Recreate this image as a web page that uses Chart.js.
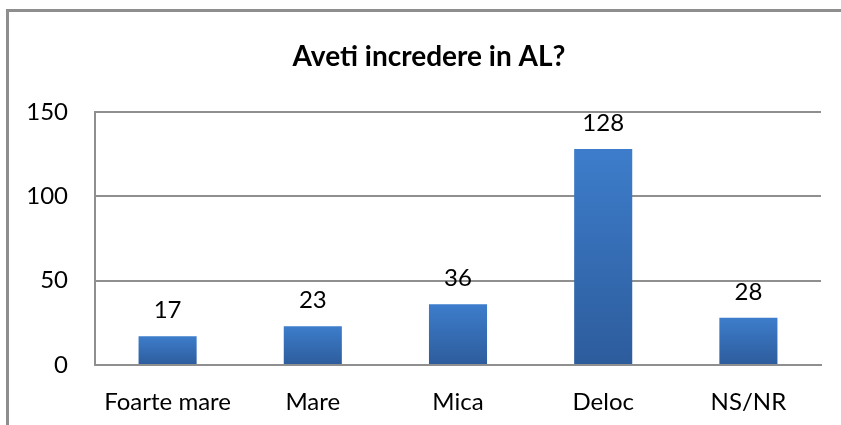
<!DOCTYPE html>
<html>
<head>
<meta charset="utf-8">
<script src="https://cdn.jsdelivr.net/npm/chart.js@4"></script>
<style>
  html,body{margin:0;padding:0;background:#fff;}
  #wrap{position:relative;width:841px;height:425px;overflow:hidden;}
  #frame{position:absolute;left:6px;top:9px;width:900px;height:500px;
         border-top:3px solid #8e8e8e;border-left:3px solid #8e8e8e;pointer-events:none;}
  canvas{position:absolute;left:0;top:0;}
</style>
</head>
<body>
<div id="wrap">
  <canvas id="chart" width="841" height="425"></canvas>
  <div id="frame"></div>
</div>
<script>
/* ------------- DATA ------------- */
const TITLE      = "Aveti incredere in AL?";
const categories = ["Foarte mare", "Mare", "Mica", "Deloc", "NS/NR"];
const values     = [17, 23, 36, 128, 28];
const yTicks     = [0, 50, 100, 150];

const FONT = "Lato, 'Open Sans', sans-serif";
const GRID = "#8f8f8f";

/* gradient per bar, top lighter, bottom darker */
function barFill(c){
  const ch = c.chart, y = ch.scales.y;
  if(!ch.chartArea || !y || c.dataIndex === undefined) return "#3a73bd";
  const top = y.getPixelForValue(values[c.dataIndex]);
  const bot = y.getPixelForValue(0);
  if(!Number.isFinite(top) || !Number.isFinite(bot)) return "#3a73bd";
  const g = ch.ctx.createLinearGradient(0, top, 0, bot);
  g.addColorStop(0, "#3d7dcb");
  g.addColorStop(1, "#2d5c9c");
  return g;
}

/* value labels above each bar */
const valueLabels = {
  id:"valueLabels",
  afterDatasetsDraw(chart){
    const ctx = chart.ctx;
    const meta = chart.getDatasetMeta(0);
    ctx.save();
    ctx.font = "24px " + FONT;
    ctx.fillStyle = "#000";
    ctx.textAlign = "center";
    ctx.textBaseline = "alphabetic";
    meta.data.forEach((bar, i) => {
      ctx.fillText(String(values[i]), bar.x, bar.y - 18);
    });
    ctx.restore();
  }
};

/* title, centred on the framed box rather than the plot */
const boxTitle = {
  id:"boxTitle",
  afterDraw(chart){
    const ctx = chart.ctx;
    ctx.save();
    ctx.font = "bold 28px " + FONT;
    ctx.fillStyle = "#000";
    ctx.textAlign = "center";
    ctx.textBaseline = "middle";
    ctx.fillText(TITLE, 429, 57);
    ctx.restore();
  }
};

new Chart(document.getElementById("chart").getContext("2d"), {
  type:"bar",
  data:{
    labels:categories,
    datasets:[{
      data:values,
      backgroundColor:barFill,
      borderWidth:0,
      categoryPercentage:1,
      barPercentage:0.4
    }]
  },
  options:{
    responsive:false,
    animation:false,
    events:[],
    layout:{padding:{left:10, right:20, top:112, bottom:0}},
    plugins:{
      legend:{display:false},
      tooltip:{enabled:false},
      title:{display:false}
    },
    scales:{
      x:{
        grid:{display:false, drawTicks:false},
        border:{display:true, color:GRID, width:2},
        ticks:{color:"#000", font:{family:FONT, size:24}, padding:23, maxRotation:0},
        afterFit(s){ s.height = 60; }
      },
      y:{
        min:0, max:150,
        afterBuildTicks(s){ s.ticks = yTicks.map(v => ({value:v})); },
        grid:{color:GRID, lineWidth:2, drawTicks:false},
        border:{display:true, color:GRID, width:2},
        ticks:{color:"#000", font:{family:FONT, size:24}, padding:27},
        afterFit(s){ s.width = 85; }
      }
    }
  },
  plugins:[valueLabels, boxTitle]
});
</script>
</body>
</html>
